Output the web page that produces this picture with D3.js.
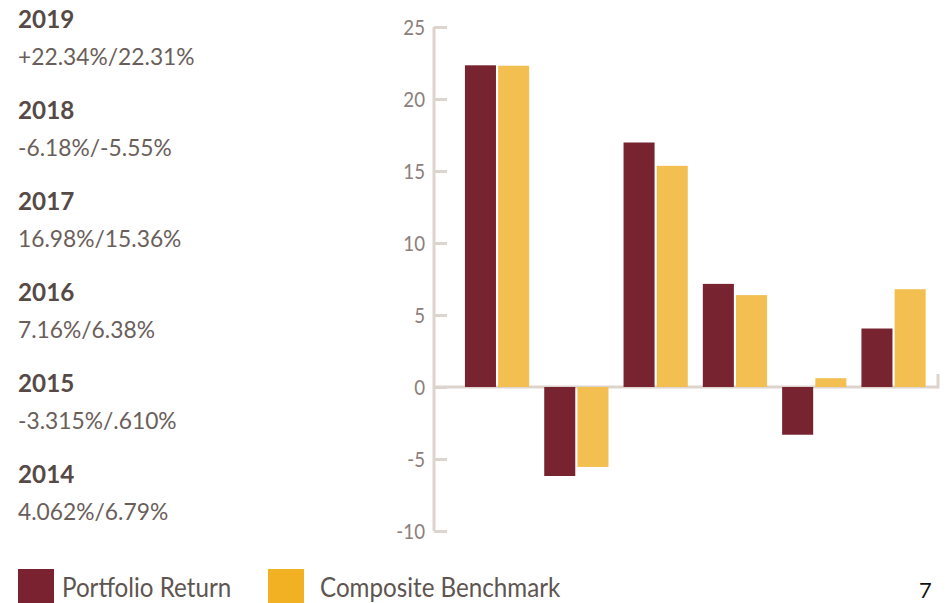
<!DOCTYPE html>
<html><head><meta charset="utf-8">
<script src="https://cdn.jsdelivr.net/npm/d3@7"></script>
<style>html,body{margin:0;padding:0;background:#fff;}svg{display:block;}</style>
</head><body>
<svg id="c" width="947" height="603"></svg>
<script>
const years = ["2019","2018","2017","2016","2015","2014"];
const portfolio = [22.34, -6.18, 16.98, 7.16, -3.315, 4.062];
const benchmark = [22.31, -5.55, 15.36, 6.38, 0.610, 6.79];
const valueLabels = ["+22.34%/22.31%","-6.18%/-5.55%","16.98%/15.36%","7.16%/6.38%","-3.315%/.610%","4.062%/6.79%"];
const yTicks = [-10,-5,0,5,10,15,20,25];
const seriesNames = ["Portfolio Return","Composite Benchmark"];
const barColors = ["#782330","#f2bf50"];
const legendColors = ["#7a2230","#f2b123"];
const pageNumber = "7";

const svg = d3.select("#c");
const FONT = "Lato, 'Open Sans', sans-serif";

function squeeze(sel, f){
  sel.each(function(){
    const w = this.getComputedTextLength();
    d3.select(this).attr("textLength", w*f).attr("lengthAdjust","spacingAndGlyphs");
  });
}

const y = d3.scaleLinear().domain([-10,25]).range([531,27]);
const x0 = d3.scaleBand().domain(years).range([457.4,933.2]).paddingInner(0.19).paddingOuter(0.095);
const x1 = d3.scaleBand().domain([0,1]).range([0,x0.bandwidth()]).paddingInner(0.065);

const axisColor = "#ddd4cd";
const axisX = 434;

// axis
const ax = svg.append("g").attr("transform",`translate(${axisX},0)`)
  .call(d3.axisRight(y).tickValues(yTicks).tickSize(13).tickFormat(""));
ax.select(".domain").attr("stroke",axisColor).attr("stroke-width",3)
  .attr("d",`M0,${y(-10)}V${y(25)}`);
ax.selectAll(".tick line").attr("stroke",axisColor).attr("stroke-width",3);

const labels = svg.append("g").selectAll("text").data(yTicks).join("text")
  .attr("x",425).attr("y",d=>y(d)+8).attr("text-anchor","end")
  .attr("font-family",FONT).attr("font-size",22).attr("fill","#8c807b")
  .text(d=>d);
squeeze(labels,0.85);

// zero line
svg.append("line").attr("x1",axisX).attr("x2",938).attr("y1",y(0)).attr("y2",y(0))
  .attr("stroke",axisColor).attr("stroke-width",3);
svg.append("line").attr("x1",938).attr("x2",938).attr("y1",y(0)-13).attr("y2",y(0)+1.5)
  .attr("stroke",axisColor).attr("stroke-width",3);

// bars
const groups = svg.append("g").selectAll("g").data(years).join("g")
  .attr("transform",d=>`translate(${x0(d)},0)`);
groups.selectAll("rect").data((d,i)=>[portfolio[i],benchmark[i]]).join("rect")
  .attr("x",(d,j)=>x1(j)).attr("width",x1.bandwidth())
  .attr("y",d=>y(Math.max(0,d))).attr("height",d=>Math.abs(y(d)-y(0)))
  .attr("fill",(d,j)=>barColors[j]);

// left column
const left = svg.append("g");
const yearT = left.selectAll("text.yr").data(years).join("text").attr("class","yr")
  .attr("x",18).attr("y",(d,i)=>28+i*91)
  .attr("font-family",FONT).attr("font-weight",700).attr("font-size",25).attr("fill","#564a46")
  .text(d=>d);
squeeze(yearT,0.97);
const valT = left.selectAll("text.vl").data(valueLabels).join("text").attr("class","vl")
  .attr("x",18).attr("y",(d,i)=>65+i*91)
  .attr("font-family",FONT).attr("font-size",23.5).attr("fill","#6a5e5a")
  .text(d=>d);
squeeze(valT,0.97);

// legend
const legX = [18,268];
const legTX = [62,320];
const lg = svg.append("g").selectAll("g").data(seriesNames).join("g");
lg.append("rect").attr("x",(d,i)=>legX[i]).attr("y",569).attr("width",36).attr("height",36)
  .attr("fill",(d,i)=>legendColors[i]);
const lt = lg.append("text").attr("x",(d,i)=>legTX[i]).attr("y",597)
  .attr("font-family",FONT).attr("font-size",26).attr("fill","#5e5450").text(d=>d);
squeeze(lt,0.93);

const pn = svg.append("text").attr("x",919).attr("y",598).attr("font-family",FONT)
  .attr("font-size",22).attr("fill","#111").text(pageNumber);
</script>
</body></html>
